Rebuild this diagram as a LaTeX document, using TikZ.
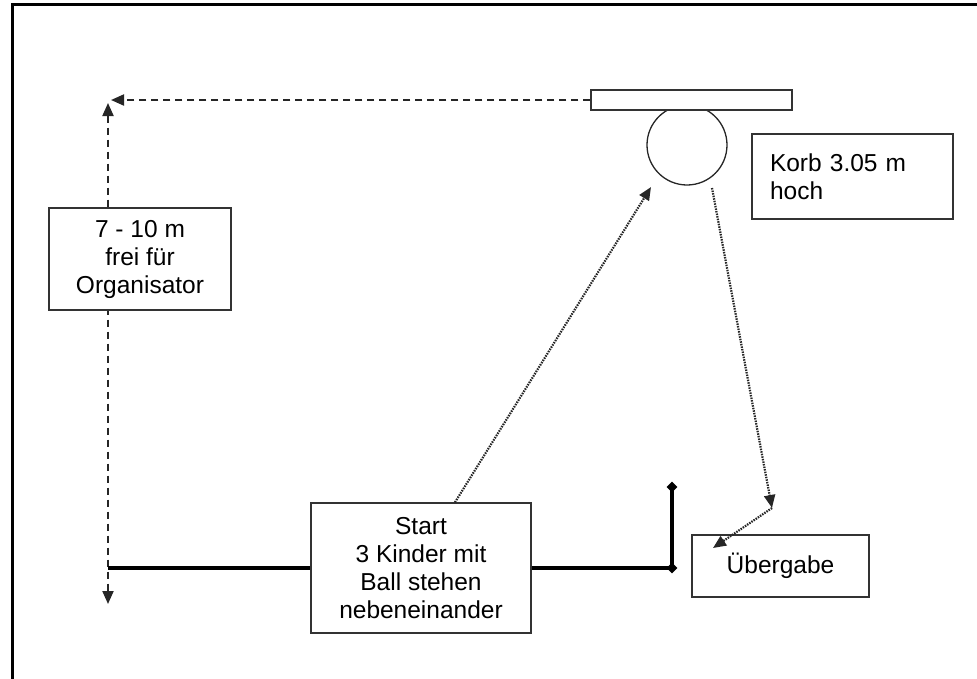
\documentclass[tikz,border=0pt]{standalone}
\usepackage{fontspec}
\setmainfont{Liberation Sans}
\usetikzlibrary{arrows.meta,shapes.geometric}

\tikzset{
	kasten/.style={draw=black!80, line width=1.4pt, fill=white, align=center, inner sep=2pt, font=\fontsize{24.5}{28}\selectfont},
	strich/.style={line width=2pt, color=black!85, dash pattern=on 7pt off 5pt},
	punkt/.style={line width=2.2pt, color=black!85, dash pattern=on 1.5pt off 1.1pt},
	balken/.style={line width=4pt, line cap=butt},
	raute/.style={diamond, fill=black, inner sep=0pt, minimum size=11pt},
	spitze/.style={-{Triangle[length=13pt,width=11pt]}},
}

\begin{document}
\begin{tikzpicture}[x=1pt, y=-1pt]
		%%%%% START %%%%%
		\useasboundingbox (0,0) rectangle (977,678);
		\clip (0,0) rectangle (977,678);
		
		\draw[line width=3pt] (12,700) -- (12,4) -- (990,4);
		
		\coordinate (ecke) at (111,100);
		\coordinate (oben) at (108,103);
		\coordinate (unten) at (108,604);
		\coordinate (links) at (108,568);
		\coordinate (fuss) at (672,568);
		\coordinate (pfosten) at (672,487);
		\coordinate (wurf) at (651,187);
		\coordinate (abprall) at (712,188);
		\coordinate (knick) at (772,508);
		\coordinate (ziel) at (713,548);
		
		\draw[strich, {Triangle[length=13pt,width=11pt]}-{Triangle[length=13pt,width=11pt]}] (oben) -- (unten);
		
		\node[circle, draw=black!85, line width=1.3pt, minimum size=80pt] (ring) at (687,145) {};
		\node[draw=black!80, line width=1.4pt, fill=white, minimum width=201pt, minimum height=20pt] (brett) at (691.5,100) {};
		\draw[strich, spitze] (brett.west) -- (ecke);
		
		\node[kasten, minimum width=182pt, minimum height=102pt] (org) at (140,259) {7 - 10 m\\frei für\\Organisator};
		\node[kasten, minimum width=220pt, minimum height=130pt] (start) at (421,568) {Start\\3 Kinder mit\\Ball stehen\\nebeneinander};
		\node[kasten, minimum width=201pt, minimum height=85pt, text width=165pt, align=left] (korb) at (852.5,176.5) {Korb 3.05 m\\hoch};
		\node[kasten, minimum width=177pt, minimum height=62pt] (uebergabe) at (780.5,566) {Übergabe};
		
		\draw[balken] (links) -- (start.west);
		\draw[balken] (start.east) -- (fuss) -- (pfosten);
		\foreach \p in {fuss,pfosten}
			\node[raute] (raute-\p) at (\p) {};
		
		\draw[punkt, spitze] ([xshift=34pt]start.north) -- (wurf);
		\draw[punkt, spitze] (abprall) -- (knick);
		\draw[punkt, spitze] (knick) -- (ziel);
		
		%%%%% END %%%%%
\end{tikzpicture}
\end{document}
